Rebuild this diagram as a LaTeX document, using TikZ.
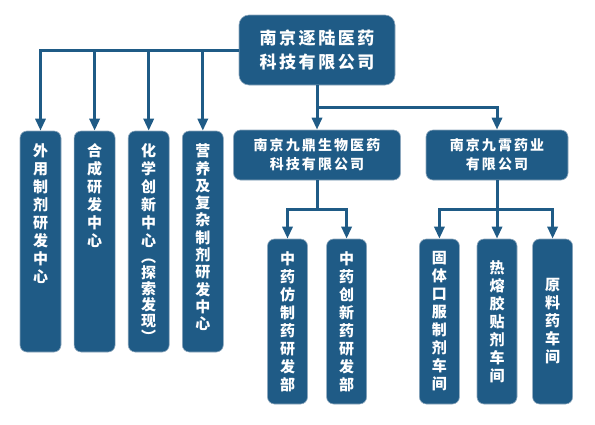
\documentclass[tikz,border=0pt]{standalone}
\usepackage{fontspec}
\newfontfamily\zh{Noto Sans CJK SC}[LetterSpace=15]
\newfontfamily\zhv{Noto Sans CJK SC}
\usetikzlibrary{arrows.meta,positioning,calc}
\definecolor{navy}{HTML}{1F5B86}
\definecolor{edge}{HTML}{8EA8BE}

\begin{document}
\begin{tikzpicture}[
  x=1pt, y=-1pt, text=white,
  b/.style={draw=edge, line width=0.6pt, fill=navy, rounded corners=7pt, inner sep=0pt, align=center},
  col/.style={b, minimum width=41pt, minimum height=221pt},
  sub/.style={b, minimum width=40pt, minimum height=165pt, font=\zhv\bfseries\fontsize{15}{18}\selectfont},
  vt/.style={inner sep=0pt, anchor=north, align=center, font=\zhv\bfseries\fontsize{15}{18}\selectfont},
  ln/.style={draw=navy, line width=3pt},
  pf/.style={ln, -{Triangle[length=12pt,width=10pt]}}
]
\path[fill=white] (0,0) rectangle (595,424);
% top level
\node[b, minimum width=156pt, minimum height=70pt, rounded corners=10pt, font=\zh\bfseries\fontsize{17}{24}\selectfont] (root) at (317,50) {南京逐陆医药\\科技有限公司};
% subsidiaries
\node[b, minimum width=167pt, minimum height=50pt, font=\zh\bfseries\fontsize{14}{19}\selectfont] (jd) at (317,155) {南京九鼎生物医药\\科技有限公司};
\node[b, minimum width=142pt, minimum height=50pt, font=\zh\bfseries\fontsize{14}{19}\selectfont] (jx) at (497,155) {南京九霄药业\\有限公司};
% research centres
\node[col] (c1) at (40.5,241.5) {};
\node[col, right=12.5pt of c1] (c2) {};
\node[col, right=12.5pt of c2] (c3) {};
\node[col, right=12.5pt of c3] (c4) {};
\node[vt] (t1) at ($(c1.north)+(0,13)$) {外\\用\\制\\剂\\研\\发\\中\\心};
\node[vt] (t2) at ($(c2.north)+(0,13)$) {合\\成\\研\\发\\中\\心};
\node[vt] (t3) at ($(c3.north)+(0,13)$) {化\\学\\创\\新\\中\\心\\[-2pt]︵\\[-2pt]探\\[-2pt]索\\[-2pt]发\\[-2pt]现\\[-2pt]︶};
\node[vt, font=\zhv\bfseries\fontsize{15}{17.3}\selectfont] (t4) at ($(c4.north)+(0,13)$) {营\\养\\及\\复\\杂\\制\\剂\\研\\发\\中\\心};
% departments and workshops
\node[sub] (zA) at (287.5,321.5) {中\\药\\仿\\制\\药\\研\\发\\部};
\node[sub, right=18.5pt of zA] (zB) {中\\药\\创\\新\\药\\研\\发\\部};
\node[sub] (zD) at (497,321.5) {热\\熔\\胶\\贴\\剂\\车\\间};
\node[sub, left=17pt of zD] (zC) {固\\体\\口\\服\\制\\剂\\车\\间};
\node[sub, right=15pt of zD] (zE) {原\\料\\药\\车\\间};
% connectors
\draw[pf] (root.west) -| (c1.north);
\foreach \c in {c2,c3,c4}
  \draw[pf] (root.west -| \c.north) -- (\c.north);
\draw[pf] (root.south) -- (jd.north);
\coordinate (m) at ($(root.south)!.5!(jd.north)$);
\draw[pf] (m) -| (jx.north);
\coordinate (j1) at ($(jd.south)+(0,29.5)$);
\draw[ln] (jd.south) -- (j1);
\draw[pf] (j1) -| (zA.north);
\draw[pf] (j1) -| (zB.north);
\draw[pf] (jx.south) -- (zD.north);
\coordinate (j2) at ($(jx.south)+(0,29.5)$);
\draw[pf] (j2) -| (zC.north);
\draw[pf] (j2) -| (zE.north);
\end{tikzpicture}
\end{document}
